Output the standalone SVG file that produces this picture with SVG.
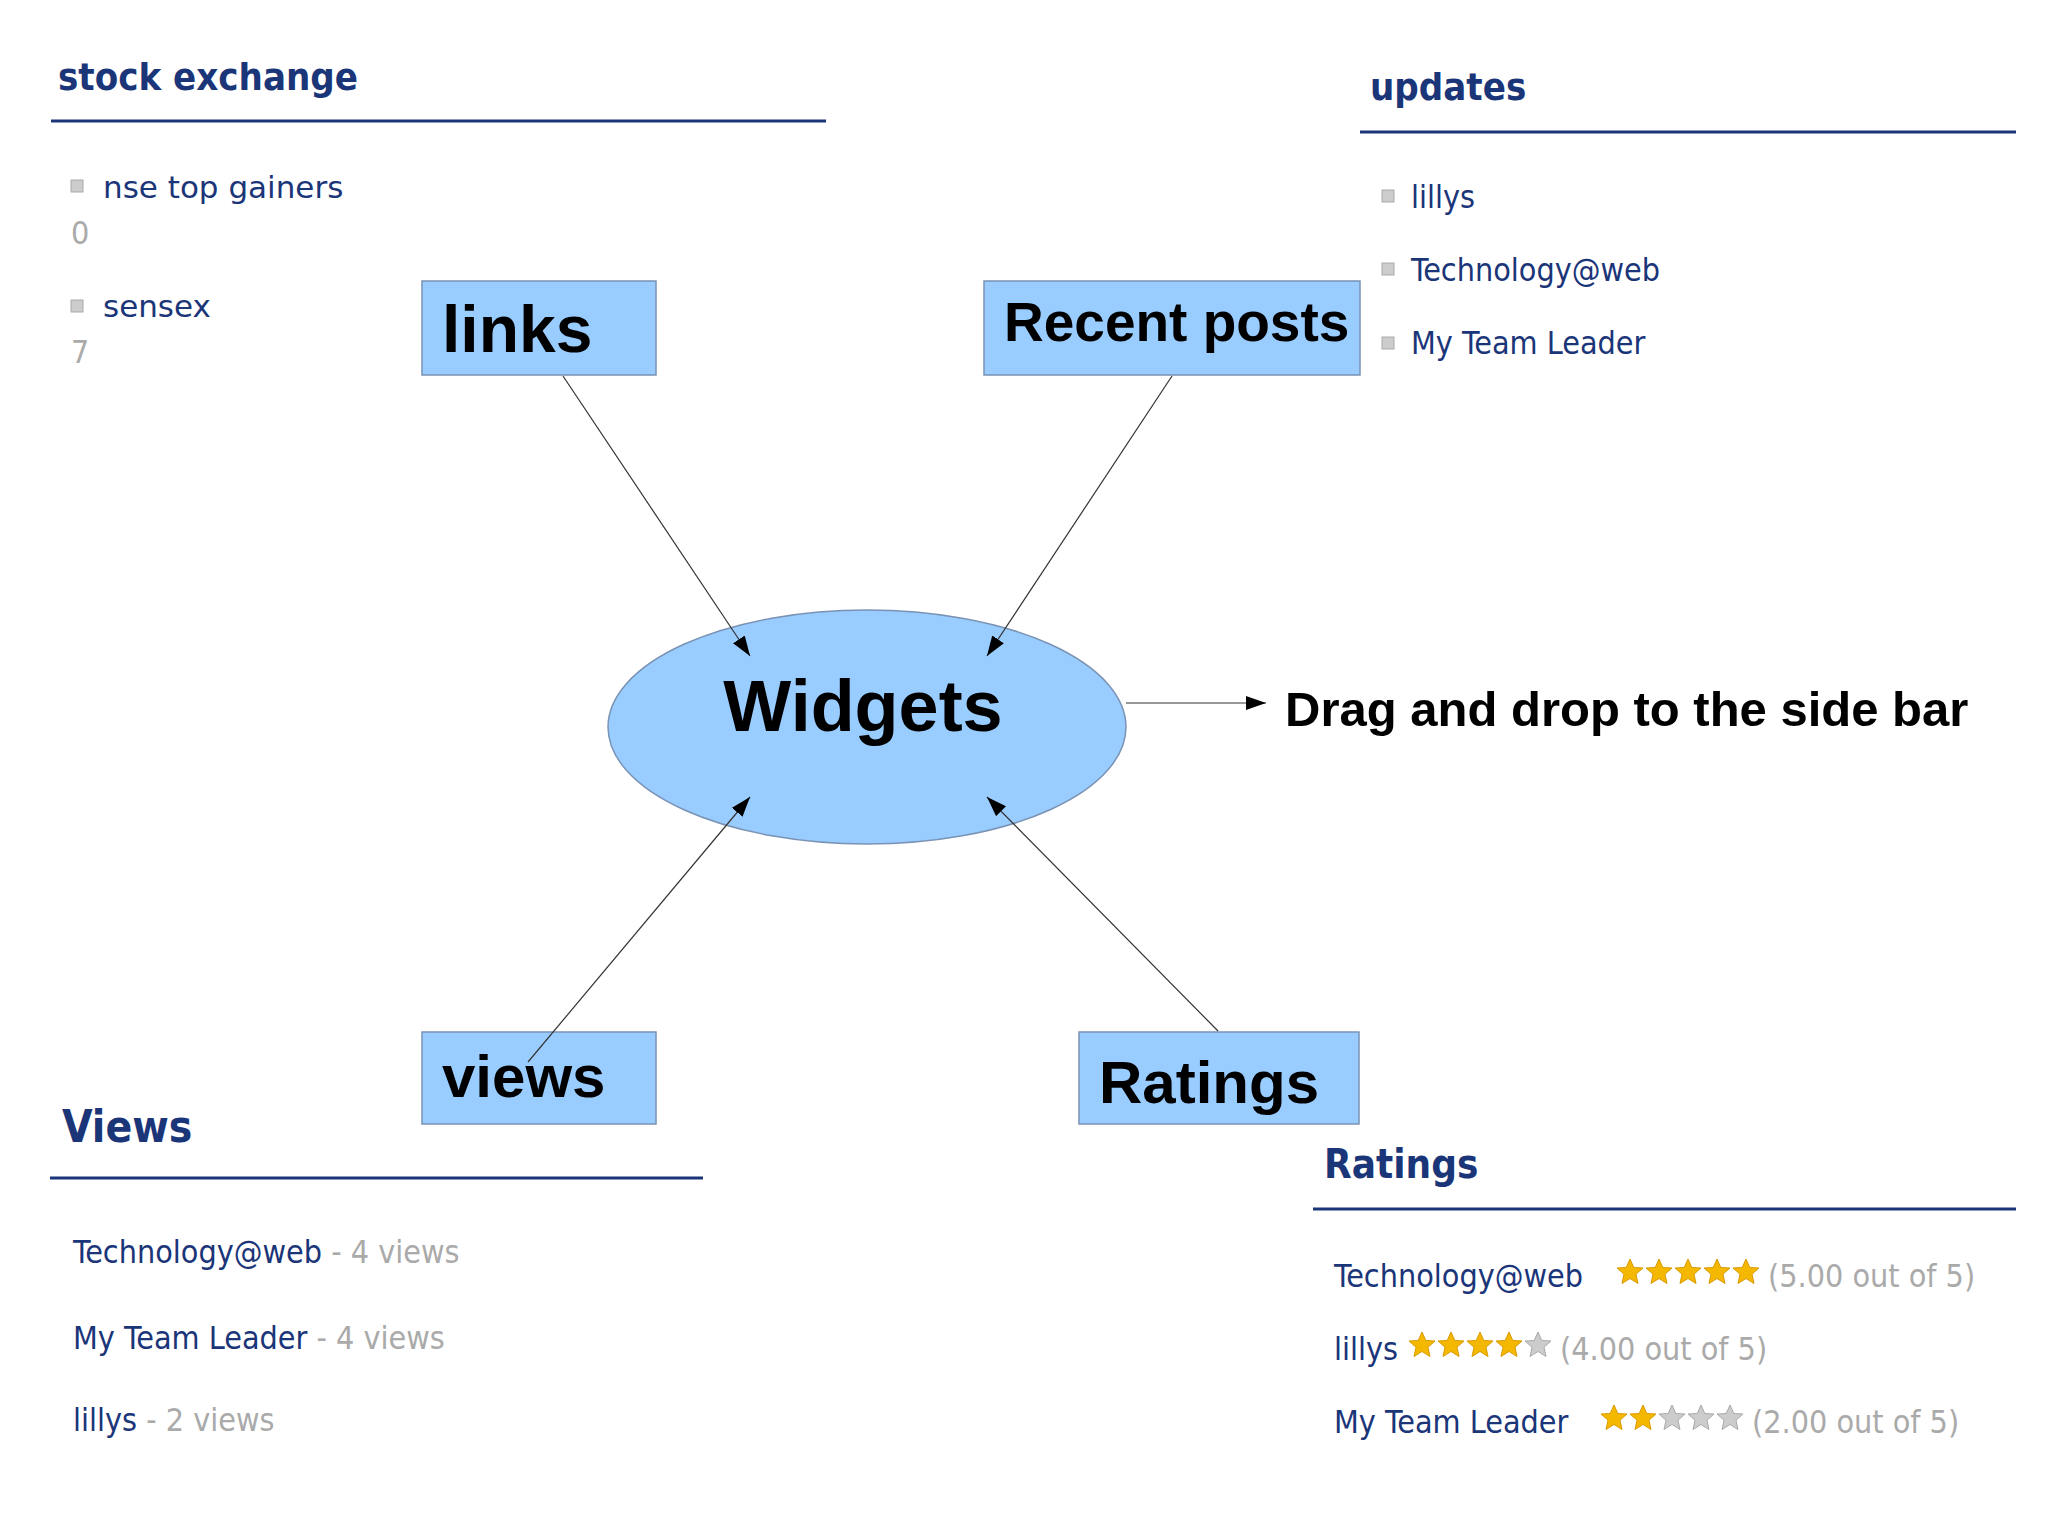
<svg xmlns="http://www.w3.org/2000/svg" xmlns:xlink="http://www.w3.org/1999/xlink" width="2048" height="1535" viewBox="0 0 2048 1535">
<style>
.h{font-family:"DejaVu Sans Condensed","DejaVu Sans",sans-serif;font-weight:bold;fill:#1b3579;font-size:38px}
.t{font-family:"DejaVu Sans Condensed","DejaVu Sans",sans-serif;fill:#1b3579;font-size:32px}
.g{fill:#aaa}
.rule{stroke:#1b3579;stroke-width:3}
.box{fill:#99ccff;stroke:#7a93b5;stroke-width:1.5}
.lbl{font-family:"Liberation Sans",Arial,sans-serif;font-weight:bold;fill:#000}
.c{stroke:#333;stroke-width:1.2;fill:none;marker-end:url(#a)}
.bul{fill:#ccc;stroke:#aaa;stroke-width:1}
</style>
<defs>
<marker id="a" viewBox="0 0 20 14" refX="20" refY="7" markerWidth="20" markerHeight="14" markerUnits="userSpaceOnUse" orient="auto"><path d="M0,0 L20,7 L0,14 Z" fill="#000"/></marker>
<path id="s" d="M0,-13 L3.8,-4.5 L13,-4 L6,2.2 L8,11.5 L0,6.5 L-8,11.5 L-6,2.2 L-13,-4 L-3.8,-4.5 Z"/>
</defs>
<rect width="2048" height="1535" fill="#fff"/>
<g id="stock">
<text class="h" x="58" y="90">stock exchange</text>
<line class="rule" x1="51" y1="121" x2="826" y2="121"/>
<rect class="bul" x="71" y="180" width="12" height="12"/>
<text class="t" x="103" y="198" style="font-family:'DejaVu Sans',sans-serif;font-size:31px">nse top gainers</text>
<text class="t g" x="71" y="244">0</text>
<rect class="bul" x="71" y="300" width="12" height="12"/>
<text class="t" x="103" y="317" style="font-family:'DejaVu Sans',sans-serif;font-size:31px">sensex</text>
<text class="t g" x="71" y="363">7</text>
</g>
<g id="updates">
<text class="h" x="1370" y="100">updates</text>
<line class="rule" x1="1360" y1="132" x2="2016" y2="132"/>
<rect class="bul" x="1382" y="190" width="12" height="12"/>
<text class="t" x="1411" y="208">lillys</text>
<rect class="bul" x="1382" y="263" width="12" height="12"/>
<text class="t" x="1411" y="281">Technology@web</text>
<rect class="bul" x="1382" y="337" width="12" height="12"/>
<text class="t" x="1411" y="354">My Team Leader</text>
</g>
<g id="views-panel">
<text class="h" x="62" y="1142" style="font-size:44px">Views</text>
<line class="rule" x1="50" y1="1178" x2="703" y2="1178"/>
<text class="t" x="73" y="1263">Technology@web<tspan class="g"> - 4 views</tspan></text>
<text class="t" x="73" y="1349">My Team Leader<tspan class="g"> - 4 views</tspan></text>
<text class="t" x="73" y="1431">lillys<tspan class="g"> - 2 views</tspan></text>
</g>
<g id="ratings-panel">
<text class="h" x="1324" y="1178" style="font-size:40px">Ratings</text>
<line class="rule" x1="1313" y1="1209" x2="2016" y2="1209"/>
<text class="t" x="1334" y="1287">Technology@web</text>
<g fill="#f5b800" stroke="#d99a00" stroke-width="1">
<use href="#s" x="1630" y="1272"/><use href="#s" x="1659" y="1272"/><use href="#s" x="1688" y="1272"/><use href="#s" x="1717" y="1272"/><use href="#s" x="1746" y="1272"/>
<use href="#s" x="1422" y="1345"/><use href="#s" x="1451" y="1345"/><use href="#s" x="1480" y="1345"/><use href="#s" x="1509" y="1345"/>
<use href="#s" x="1614" y="1418"/><use href="#s" x="1643" y="1418"/>
</g>
<g fill="#ccc" stroke="#aaa" stroke-width="1">
<use href="#s" x="1538" y="1345"/>
<use href="#s" x="1672" y="1418"/><use href="#s" x="1701" y="1418"/><use href="#s" x="1730" y="1418"/>
</g>
<text class="t g" x="1768" y="1287">(5.00 out of 5)</text>
<text class="t" x="1334" y="1360">lillys</text>
<text class="t g" x="1560" y="1360">(4.00 out of 5)</text>
<text class="t" x="1334" y="1433">My Team Leader</text>
<text class="t g" x="1752" y="1433">(2.00 out of 5)</text>
</g>
<g id="links"><rect class="box" x="422" y="281" width="234" height="94"/><text class="lbl" x="442" y="352" font-size="66">links</text></g>
<g id="recent"><rect class="box" x="984" y="281" width="376" height="94"/><text class="lbl" x="1004" y="341" font-size="55">Recent posts</text></g>
<g id="widgets"><ellipse class="box" cx="867" cy="727" rx="259" ry="117"/><text class="lbl" x="863" y="731" font-size="72" text-anchor="middle">Widgets</text></g>
<g id="viewsbox"><rect class="box" x="422" y="1032" width="234" height="92"/><text class="lbl" x="442" y="1097" font-size="60">views</text></g>
<g id="ratingsbox"><rect class="box" x="1079" y="1032" width="280" height="92"/><text class="lbl" x="1099" y="1103" font-size="60">Ratings</text></g>
<g id="drag"><text class="lbl" x="1285" y="726" font-size="49">Drag and drop to the side bar</text></g>
<g id="connectors">
<path class="c" d="M563,376 L750,656"/>
<path class="c" d="M1172,376 L987,656"/>
<path class="c" d="M528,1062 L750,797"/>
<path class="c" d="M1218,1031 L987,797"/>
<path class="c" d="M1126,703 L1266,703"/>
</g>
</svg>
